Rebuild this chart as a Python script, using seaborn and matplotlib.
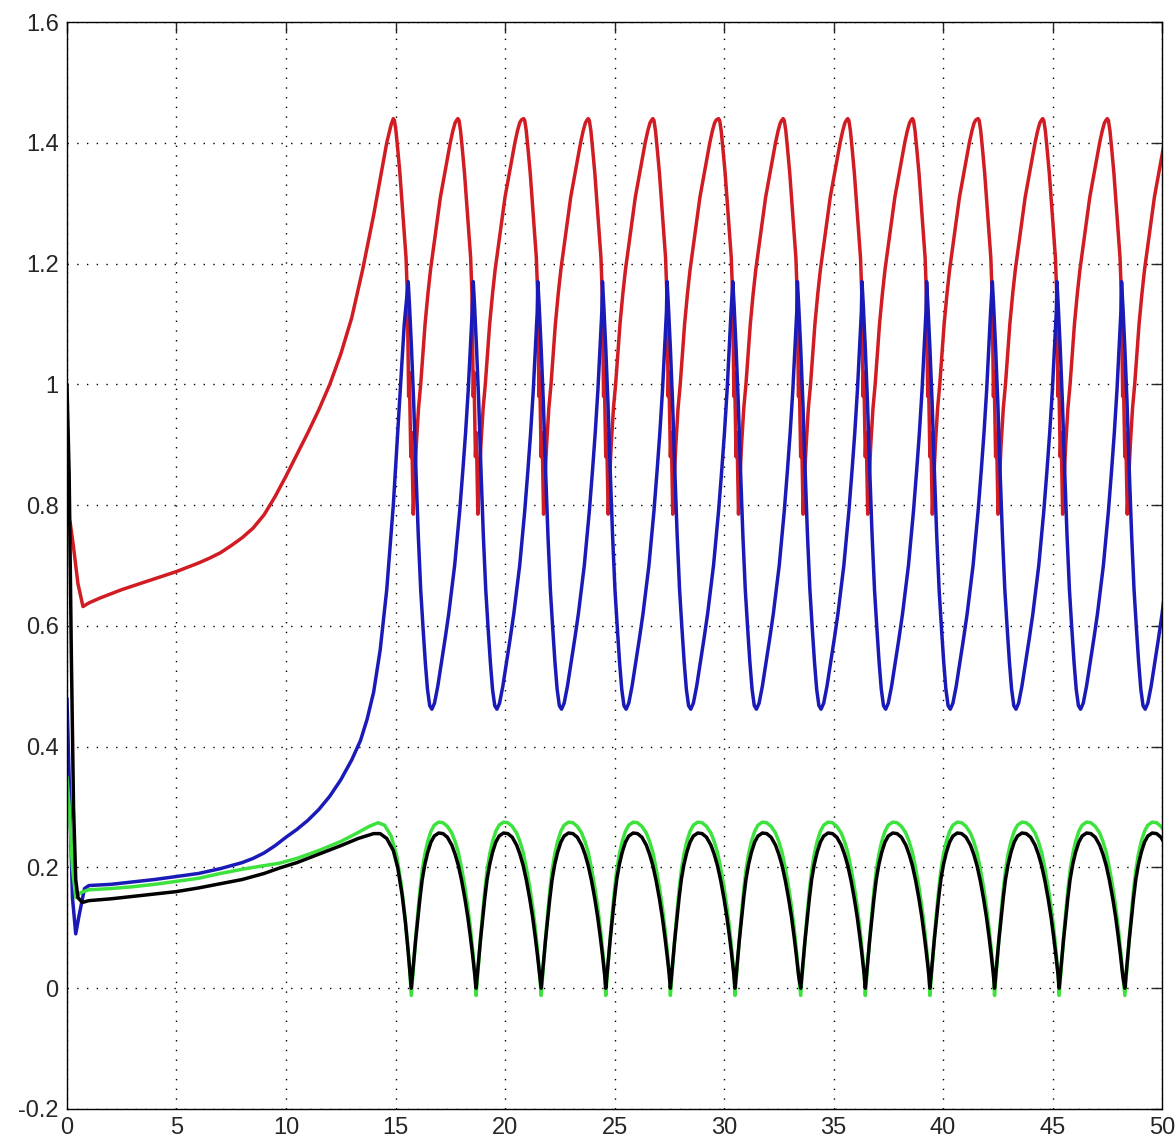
import matplotlib
matplotlib.use("Agg")
import matplotlib.pyplot as plt
import seaborn as sns
import pandas as pd
import numpy as np

# start-up part of each trace
red_t0 = [0, 0.05, 0.15, 0.3, 0.5, 0.73, 1.0, 1.5, 2.0, 2.5, 3.0, 3.5, 4.0, 4.5, 5.0, 5.5, 6.0, 6.5,
          7.0, 7.5, 8.0, 8.5, 9.0, 9.5, 10.0, 10.5, 11.0, 11.5, 12.0, 12.5, 13.0, 13.5, 14.0, 14.3,
          14.6, 14.8]
red_v0 = [0.79, 0.785, 0.77, 0.73, 0.67, 0.632, 0.638, 0.646, 0.653, 0.66, 0.666, 0.672, 0.678,
          0.684, 0.69, 0.697, 0.704, 0.712, 0.721, 0.733, 0.746, 0.762, 0.784, 0.814, 0.848, 0.884,
          0.92, 0.958, 1.0, 1.05, 1.11, 1.19, 1.28, 1.34, 1.40, 1.43]

blue_t0 = [0, 0.1, 0.25, 0.4, 0.55, 0.8, 1.0, 2, 3, 4, 5, 6, 7, 8, 8.5, 9, 9.5, 10, 10.5, 11, 11.5,
           12, 12.5, 13, 13.4, 13.7, 14.0, 14.3, 14.6, 14.9, 15.2, 15.4]
blue_v0 = [0.48, 0.35, 0.15, 0.09, 0.12, 0.165, 0.17, 0.172, 0.176, 0.18, 0.185, 0.19, 0.198, 0.208,
           0.215, 0.224, 0.236, 0.25, 0.263, 0.278, 0.296, 0.318, 0.345, 0.378, 0.41, 0.445, 0.49,
           0.56, 0.66, 0.80, 0.98, 1.1]

green_t0 = [0, 0.1, 0.25, 0.4, 0.6, 1, 2, 3, 4, 5, 6, 7, 8, 9, 9.7, 10.5, 11.5, 12.5, 13.2, 13.8,
            14.2, 14.5, 14.8, 15.05, 15.25, 15.4, 15.55, 15.65]
green_v0 = [0.35, 0.3, 0.2, 0.15, 0.158, 0.163, 0.165, 0.168, 0.172, 0.177, 0.182, 0.19, 0.197,
            0.203, 0.207, 0.215, 0.228, 0.243, 0.256, 0.268, 0.274, 0.27, 0.252, 0.22, 0.175, 0.13,
            0.075, 0.03]

black_t0 = [0, 0.1, 0.2, 0.3, 0.4, 0.5, 0.7, 1, 2, 3, 4, 5, 6, 7, 8, 9, 9.7, 10.5, 11.5, 12.5, 13.3,
            14.0, 14.3, 14.6, 14.9, 15.1, 15.3, 15.45, 15.58, 15.66]
black_v0 = [1.0, 0.85, 0.55, 0.3, 0.18, 0.15, 0.142, 0.145, 0.148, 0.152, 0.156, 0.16, 0.166, 0.173,
            0.18, 0.19, 0.199, 0.208, 0.222, 0.236, 0.248, 0.256, 0.256, 0.248, 0.228, 0.2, 0.155,
            0.11, 0.06, 0.025]

# times of the repeating features
red_peaks = [14.9, 17.85, 20.85, 23.8, 26.75, 29.75, 32.7, 35.65, 38.6, 41.6, 44.55, 47.5]
blue_peaks = [15.58, 18.55, 21.5, 24.45, 27.4, 30.4, 33.35, 36.3, 39.25, 42.25, 45.2, 48.15]
dips = [15.72, 18.68, 21.65, 24.6, 27.55, 30.5, 33.5, 36.45, 39.4, 42.35, 45.3, 48.3]

# one cycle of each trace, offset from the feature time
red_off = [0, 0.05, 0.12, 0.2, 0.3, 0.4, 0.5, 0.58, 0.64, 0.7, 0.73, 0.8, 0.84, 0.91, 0.97, 1.05,
           1.15, 1.25, 1.35, 1.45, 1.58, 1.7, 1.85, 2.0, 2.15, 2.3, 2.45, 2.6, 2.72, 2.82, 2.9]
red_cyc = [1.44, 1.437, 1.42, 1.39, 1.35, 1.30, 1.25, 1.21, 1.15, 0.98, 1.02, 0.88, 0.92, 0.785,
           0.84, 0.90, 0.96, 1.0, 1.05, 1.10, 1.15, 1.19, 1.23, 1.27, 1.31, 1.34, 1.37, 1.40, 1.42,
           1.433, 1.438]

blue_off = [0, 0.06, 0.15, 0.25, 0.36, 0.46, 0.57, 0.68, 0.78, 0.88, 0.98, 1.08, 1.2, 1.35, 1.5,
            1.69, 1.85, 2.0, 2.12, 2.22, 2.35, 2.5, 2.62, 2.74, 2.85, 2.92]
blue_cyc = [1.17, 1.13, 1.06, 0.97, 0.85, 0.75, 0.66, 0.595, 0.54, 0.495, 0.468, 0.462, 0.472, 0.5,
            0.535, 0.58, 0.62, 0.665, 0.70, 0.74, 0.79, 0.86, 0.92, 0.99, 1.07, 1.12]

dip_off = [0, 0.05, 0.12, 0.2, 0.3, 0.4, 0.5, 0.62, 0.75, 0.9, 1.05, 1.25, 1.45, 1.65, 1.85, 2.0,
           2.15, 2.3, 2.45, 2.58, 2.7, 2.8, 2.9]
black_cyc = [0.0, 0.02, 0.05, 0.08, 0.115, 0.15, 0.18, 0.205, 0.225, 0.242, 0.252, 0.257, 0.256,
             0.25, 0.237, 0.222, 0.203, 0.178, 0.148, 0.118, 0.085, 0.055, 0.022]
green_cyc = [-0.012, 0.012, 0.045, 0.082, 0.125, 0.163, 0.195, 0.222, 0.243, 0.26, 0.27, 0.275,
             0.274, 0.268, 0.257, 0.243, 0.225, 0.198, 0.167, 0.135, 0.1, 0.065, 0.025]


def build(name, t0, v0, starts, off, cyc):
    t = list(t0)
    v = list(v0)
    for s in starts:
        t += [s + o for o in off]
        v += list(cyc)
    return pd.DataFrame({"t": t, "value": v, "series": name})


df = pd.concat([
    build("red", red_t0, red_v0, red_peaks, red_off, red_cyc),
    build("blue", blue_t0, blue_v0, blue_peaks, blue_off, blue_cyc),
    build("green", green_t0, green_v0, dips, dip_off, green_cyc),
    build("black", black_t0, black_v0, dips, dip_off, black_cyc),
])
df = df[df["t"] <= 50.3]

sns.set_style("white")
plt.rcParams["font.family"] = ["Liberation Sans", "DejaVu Sans"]

fig = plt.figure(figsize=(11.75, 11.46), dpi=100)
ax = fig.add_axes([0.057, 0.0323, 0.932, 0.9485])

sns.lineplot(data=df, x="t", y="value", hue="series", sort=False, estimator=None,
             palette={"red": "#d01c22", "blue": "#1a1ab8", "green": "#3ee23e", "black": "#000000"},
             hue_order=["red", "blue", "green", "black"], linewidth=2.5, legend=False, ax=ax)

ticks_x = np.arange(0, 51, 5)
ticks_y = np.round(np.arange(-0.2, 1.61, 0.2), 1)
ax.set_xlim(0, 50)
ax.set_ylim(-0.2, 1.6)
ax.set_xticks(ticks_x)
ax.set_yticks(ticks_y)
ax.set_xticklabels(["%g" % x for x in ticks_x])
ax.set_yticklabels(["%g" % y for y in ticks_y])
ax.set_xlabel("")
ax.set_ylabel("")
ax.grid(True, color="black", linestyle=(0, (1, 6)), linewidth=1.0)
ax.tick_params(direction="in", length=8, width=1, top=True, right=True, labelsize=17, pad=6)
for sp in ax.spines.values():
    sp.set_visible(True)
    sp.set_color("black")
    sp.set_linewidth(1.0)

fig.savefig("out.png", dpi=100)
